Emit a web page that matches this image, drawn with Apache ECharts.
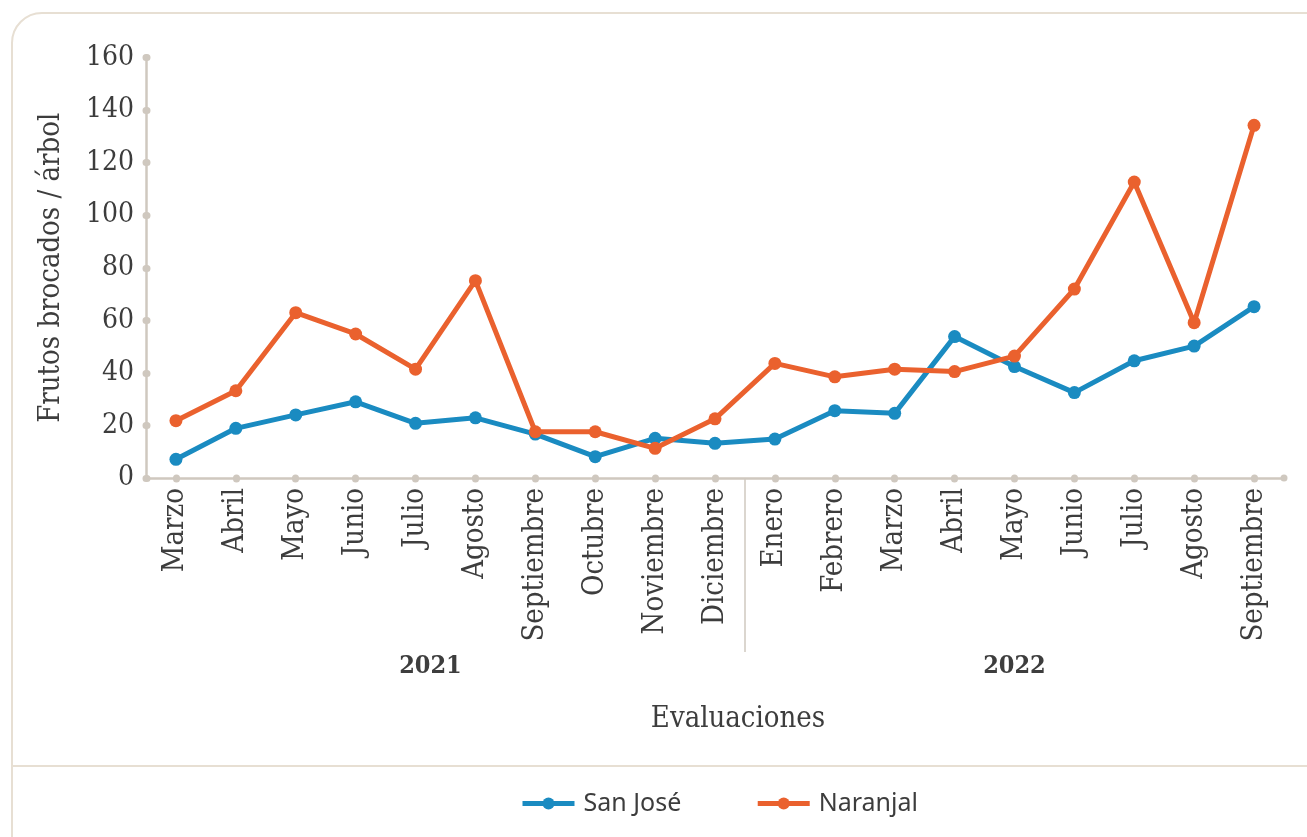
<!DOCTYPE html>
<html>
<head>
<meta charset="utf-8">
<script src="https://cdn.jsdelivr.net/npm/echarts@6/dist/echarts.min.js"></script>
<style>
html,body{margin:0;padding:0;background:#fff;}
#chart{width:1307px;height:837px;}
</style>
</head>
<body>
<div id="chart"></div>
<script>
const months = ['Marzo','Abril','Mayo','Junio','Julio','Agosto','Septiembre','Octubre','Noviembre','Diciembre',
                'Enero','Febrero','Marzo','Abril','Mayo','Junio','Julio','Agosto','Septiembre'];
const years = ['2021','2022'];
const monthsPerYear = [10, 9];
const sanJose  = [7.1,18.9,24.0,29.0,20.8,22.9,16.7,8.1,15.1,13.2,14.8,25.6,24.6,53.8,42.4,32.5,44.6,50.2,65.2];
const naranjal = [21.8,33.2,62.9,54.8,41.4,75.1,17.6,17.6,11.3,22.5,43.6,38.5,41.4,40.5,46.4,71.9,112.6,59.1,134.2];
const yMin = 0, yMax = 160, yStep = 20;
const seriesNames = ['San José','Naranjal'];
const yAxisTitle = 'Frutos brocados / árbol';
const xAxisTitle = 'Evaluaciones';

const serif = "'DejaVu Serif Condensed','DejaVu Serif',serif";
const axisColor = '#cfc8bf';
const textColor = '#3d3d3d';

// year group boundaries and centers (in category units)
const yearBounds = [];
const yearCenters = [];
let acc = 0;
monthsPerYear.forEach((n, i) => {
  yearCenters.push(acc + n / 2);
  acc += n;
  if (i < monthsPerYear.length - 1) yearBounds.push(acc);
});

const chart = echarts.init(document.getElementById('chart'));
chart.setOption({
  animation: false,
  backgroundColor: '#fff',
  grid: { left: 146, right: 23, top: 57.5, bottom: 359 },
  graphic: [
    { type: 'rect', silent: true, z: -10,
      shape: { x: 12, y: 13, width: 1400, height: 900, r: 30 },
      style: { fill: 'none', stroke: '#e7dfd3', lineWidth: 2 } },
    { type: 'line', silent: true, z: -10,
      shape: { x1: 12, y1: 766, x2: 1307, y2: 766 },
      style: { stroke: '#e7dfd3', lineWidth: 2 } }
  ],
  legend: {
    data: seriesNames,
    left: 520, top: 791, padding: 0,
    itemWidth: 52, itemHeight: 15, itemGap: 74,
    lineStyle: { width: 5 },
    textStyle: { fontFamily: "'Noto Sans',sans-serif", fontSize: 25, color: textColor, padding: [0,0,0,4] }
  },
  xAxis: [
    {
      type: 'category',
      data: months,
      boundaryGap: true,
      name: xAxisTitle,
      nameLocation: 'middle',
      nameGap: 227,
      nameTextStyle: { fontFamily: serif, fontSize: 29, color: textColor, padding: [0,0,0,46] },
      axisLine: { show: true, lineStyle: { color: axisColor, width: 2.5 }, symbol: ['none','circle'], symbolSize: [7,7] },
      axisTick: { show: true, alignWithLabel: true, length: 1, lineStyle: { color: axisColor, width: 7, cap: 'round' } },
      axisLabel: { rotate: 90, margin: 10, fontFamily: serif, fontSize: 29, color: textColor, interval: 0 },
      splitLine: { show: false }
    },
    {
      type: 'value',
      min: 0, max: months.length,
      position: 'bottom',
      axisLine: { show: false },
      axisTick: { show: true, customValues: yearBounds, length: 174, lineStyle: { color: axisColor, width: 1.5 } },
      axisLabel: { show: true, customValues: yearCenters, margin: 176, fontFamily: serif, fontSize: 25, fontWeight: 'bold', color: textColor,
                   rich: { first: { fontFamily: serif, fontSize: 25, fontWeight: 'bold', color: textColor, padding: [0,30,0,0] } },
                   formatter: v => { let a = 0; for (let i = 0; i < monthsPerYear.length; i++) { a += monthsPerYear[i]; if (v < a) return i === 0 ? '{first|' + years[i] + '}' : years[i]; } return ''; } },
      splitLine: { show: false }
    }
  ],
  yAxis: {
    type: 'value',
    min: yMin, max: yMax, interval: yStep,
    name: yAxisTitle,
    nameLocation: 'middle',
    nameGap: 80,
    nameTextStyle: { fontFamily: serif, fontSize: 29, color: textColor },
    axisLine: { show: true, lineStyle: { color: axisColor, width: 2.5 } },
    axisTick: { show: true, length: 1, inside: true, lineStyle: { color: axisColor, width: 7, cap: 'round' } },
    axisLabel: { margin: 12, fontFamily: serif, fontSize: 28, color: textColor },
    splitLine: { show: false }
  },
  series: [
    { name: seriesNames[0], type: 'line', data: sanJose, xAxisIndex: 0,
      symbol: 'circle', symbolSize: 13, color: '#1a8bc1',
      lineStyle: { width: 5 }, itemStyle: { color: '#1a8bc1' }, z: 2 },
    { name: seriesNames[1], type: 'line', data: naranjal, xAxisIndex: 0,
      symbol: 'circle', symbolSize: 13, color: '#ea612e',
      lineStyle: { width: 5 }, itemStyle: { color: '#ea612e' }, z: 3 }
  ]
});
</script>
</body>
</html>
